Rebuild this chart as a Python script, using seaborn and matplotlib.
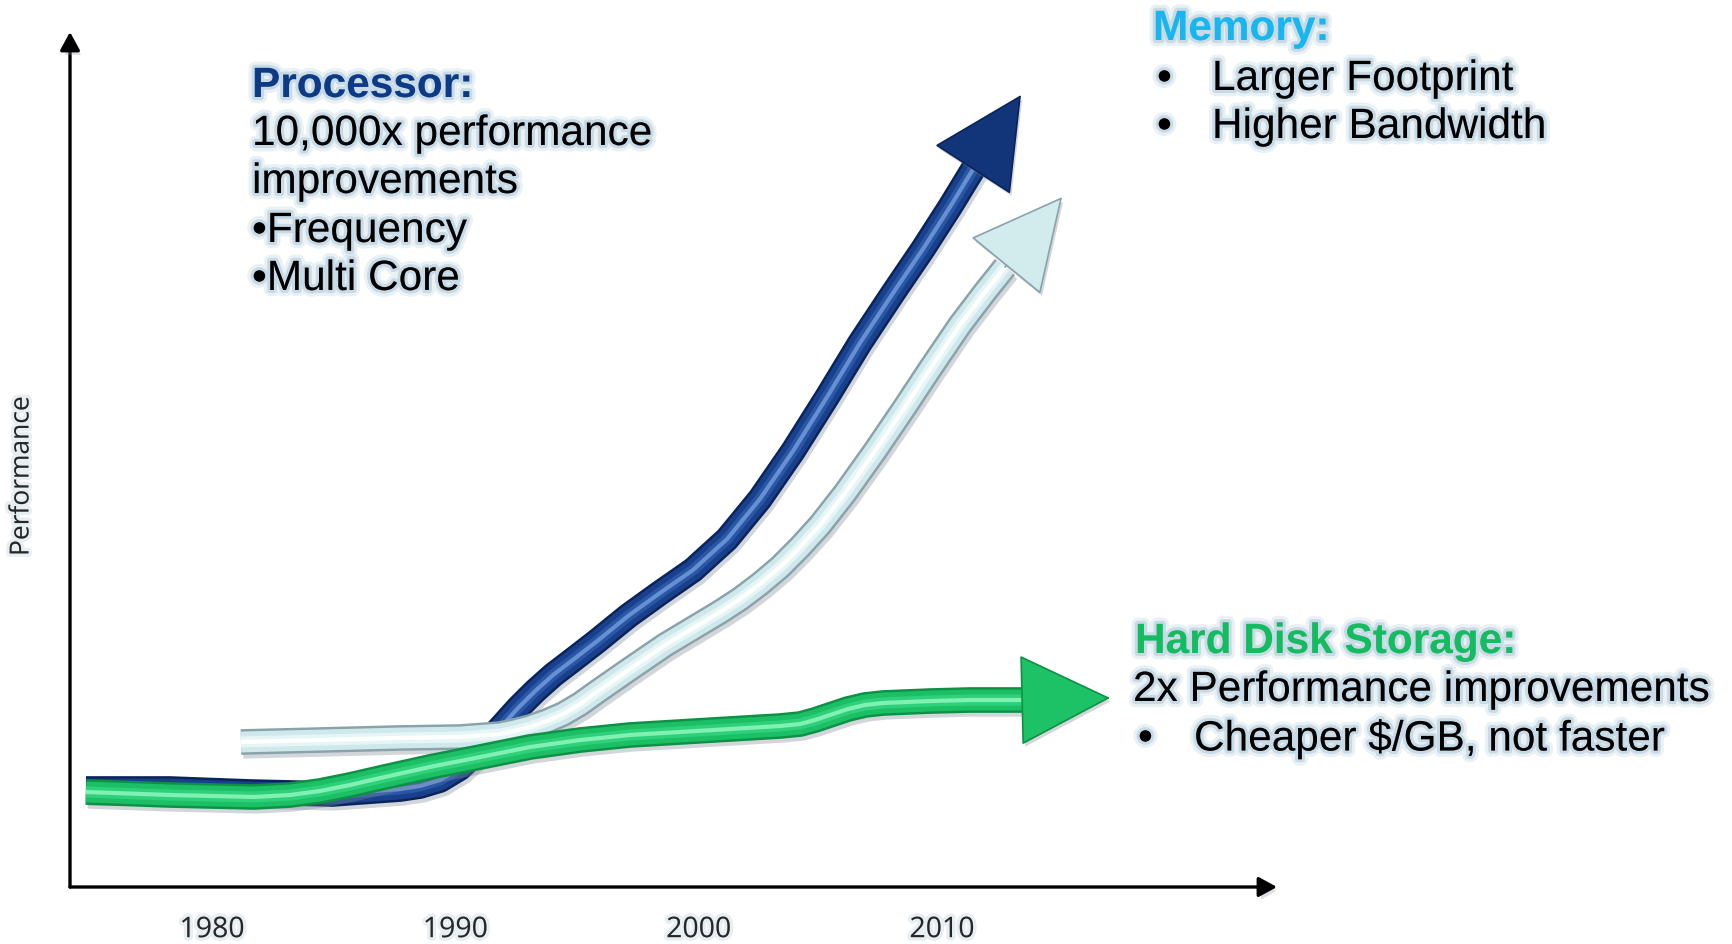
import matplotlib
matplotlib.use("Agg")
import matplotlib.pyplot as plt
import matplotlib.patheffects as pe
import numpy as np
import pandas as pd
import seaborn as sns

# ---------------- data (years, arbitrary performance units 0-100) ----------------
tick_years = [1980, 1990, 2000, 2010]
tick_labels = ["1980", "1990", "2000", "2010"]

processor_year = [1974.82, 1978.27, 1981.56, 1984.93, 1987.73, 1988.55, 1989.37, 1990.19,
                  1991.02, 1991.84, 1992.58, 1993.28, 1994.02, 1994.88, 1995.78, 1997.10,
                  1998.41, 1999.77, 2001.17, 2002.52, 2003.88, 2005.28, 2006.63, 2007.99,
                  2009.22, 2010.33, 2011.36]
processor_perf = [11.46, 11.46, 11.11, 10.88, 11.46, 11.81, 12.51, 13.92,
                  16.14, 18.60, 20.94, 22.92, 24.80, 26.67, 28.65, 31.70,
                  34.39, 37.08, 40.70, 45.38, 50.99, 57.31, 63.63, 69.47,
                  74.62, 79.53, 84.33]
processor_tip = (2013.25, 92.63)

memory_year = [1981.19, 1984.44, 1987.73, 1990.19, 1991.84, 1992.45, 1993.07, 1993.77,
               1994.43, 1995.13, 1995.82, 1997.18, 1998.62, 2000.06, 2000.88, 2001.70,
               2002.52, 2003.35, 2004.17, 2004.99, 2006.02, 2007.25, 2008.48, 2009.51,
               2010.74, 2011.77, 2012.59]
memory_perf = [16.96, 17.19, 17.43, 17.54, 17.89, 18.25, 18.71, 19.42,
               20.23, 21.40, 22.81, 25.50, 28.30, 30.76, 32.16, 33.68,
               35.44, 37.43, 39.77, 42.34, 46.08, 50.99, 56.14, 60.58,
               65.73, 69.59, 72.51]
memory_tip = (2014.94, 80.70)

disk_year = [1974.82, 1978.27, 1981.73, 1983.21, 1984.44, 1985.67, 1987.11, 1988.96,
             1991.02, 1993.07, 1995.13, 1997.18, 1999.24, 2001.29, 2003.35, 2004.17,
             2004.78, 2005.40, 2006.14, 2006.84, 2007.58, 2009.51, 2011.15, 2013.42]
disk_perf = [11.11, 10.76, 10.53, 10.76, 11.23, 11.93, 12.87, 14.04,
             15.20, 16.37, 17.19, 17.78, 18.13, 18.48, 18.83, 19.06,
             19.53, 20.12, 20.82, 21.29, 21.52, 21.75, 21.87, 21.87]
disk_tip = (2016.91, 22.11)

processor_text = ["Processor:", "10,000x performance", "improvements", "\u2022Frequency", "\u2022Multi Core"]
memory_text = ["Memory:", "Larger Footprint", "Higher Bandwidth"]
disk_text = ["Hard Disk Storage:", "2x Performance improvements", "Cheaper $/GB, not faster"]
y_label = "Performance"

# ---------------- styling ----------------
sns.set_theme(style="white")
plt.rcParams["font.family"] = ["Liberation Sans", "DejaVu Sans"]

W, H = 1733, 945
fig = plt.figure(figsize=(W / 100, H / 100), dpi=100)
ax = fig.add_axes([70 / W, (H - 888) / H, (1277 - 70) / W, (888 - 33) / H])
ax.set_xlim(1974.164, 2023.77)
ax.set_ylim(0, 100)
for s in ax.spines.values():
    s.set_visible(False)
ax.set_facecolor("none")

series = [
    ("Processor", processor_year, processor_perf, processor_tip,
     dict(edge="#0a2358", main="#18408c", mid="#2a56a3", hi="#6590d4", head="#123579"), 2),
    ("Memory", memory_year, memory_perf, memory_tip,
     dict(edge="#8aa2a9", main="#cfe8eb", mid="#e6f6f7", hi="#ffffff", head="#d2ecee"), 3),
    ("Disk", disk_year, disk_perf, disk_tip,
     dict(edge="#0c9145", main="#1cbf66", mid="#2fd07a", hi="#80f0b3", head="#1dc267"), 4),
]

for name, xs, ys, tip, col, z in series:
    df = pd.DataFrame({"year": xs, "perf": ys})
    sns.lineplot(data=df, x="year", y="perf", sort=False, estimator=None, ax=ax,
                 color=col["hi"], linewidth=3, zorder=z,
                 solid_capstyle="butt", solid_joinstyle="round",
                 path_effects=[pe.SimpleLineShadow(offset=(1.5, -2.5), shadow_color="#7f8c99",
                                                   alpha=0.35, linewidth=19),
                               pe.Stroke(linewidth=18.5, foreground=col["edge"]),
                               pe.Stroke(linewidth=15, foreground=col["main"]),
                               pe.Stroke(linewidth=8, foreground=col["mid"]),
                               pe.Normal()])
    ax.annotate("", xy=tip, xytext=(xs[-1], ys[-1]), zorder=z,
                arrowprops=dict(arrowstyle="-|>,head_length=62,head_width=31",
                                mutation_scale=1, fc=col["head"], ec=col["edge"], lw=1.2,
                                shrinkA=0, shrinkB=0,
                                path_effects=[pe.SimplePatchShadow(offset=(1.5, -2.5),
                                                                   shadow_rgbFace="#7f8c99",
                                                                   alpha=0.35),
                                              pe.Normal()]))

# axes arrows
axis_fx = [pe.SimplePatchShadow(offset=(2, -3), shadow_rgbFace="#8a9bb0", alpha=0.3), pe.Normal()]
for end in [(0, 1), (1, 0)]:
    ax.annotate("", xy=end, xytext=(0, 0), xycoords="axes fraction", textcoords="axes fraction",
                arrowprops=dict(arrowstyle="-|>,head_length=11,head_width=6", mutation_scale=1,
                                color="black", lw=2.4, shrinkA=0, shrinkB=0, path_effects=axis_fx),
                annotation_clip=False)

glow = [pe.Stroke(linewidth=9, foreground="#c3d7e3", alpha=0.35),
        pe.Stroke(linewidth=4.5, foreground="#9fbfd2", alpha=0.45),
        pe.Normal()]
small_glow = [pe.Stroke(linewidth=5, foreground="#c3d7e3", alpha=0.4), pe.Normal()]

ax.set_xticks(tick_years)
ax.set_xticklabels(tick_labels, fontsize=20.5, family=["Open Sans", "DejaVu Sans"])
ax.tick_params(axis="x", length=0, pad=21)
for t in ax.get_xticklabels():
    t.set_path_effects(small_glow)
ax.set_yticks([])
ax.set_xlabel("")
ax.set_ylabel("")

fig.text(22 / W, 1 - 477 / H, y_label, rotation=90, ha="center", va="center",
         fontsize=19, family=["Open Sans", "DejaVu Sans"], path_effects=small_glow)

FS = 30.5


def put(x, y, s, **kw):
    fig.text(x / W, 1 - y / H, s, ha="left", va="center", fontsize=FS,
             path_effects=glow, **kw)


# Processor block
proc_y = [87, 135, 183, 232, 280]
put(252, proc_y[0], processor_text[0], color="#0c3a86", weight="bold")
for yy, s in zip(proc_y[1:], processor_text[1:]):
    put(252, yy, s, color="black")

# Memory block
put(1153, 30, memory_text[0], color="#17b6ef", weight="bold")
for yy, s in zip([80, 128], memory_text[1:]):
    put(1157, yy, "\u2022", color="black")
    put(1212, yy, s, color="black")

# Hard disk block
put(1135, 643, disk_text[0], color="#14bb60", weight="bold")
put(1133, 691, disk_text[1], color="black")
put(1138, 740, "\u2022", color="black")
put(1194, 740, disk_text[2], color="black")

fig.savefig("out.png", dpi=100, facecolor="white")
